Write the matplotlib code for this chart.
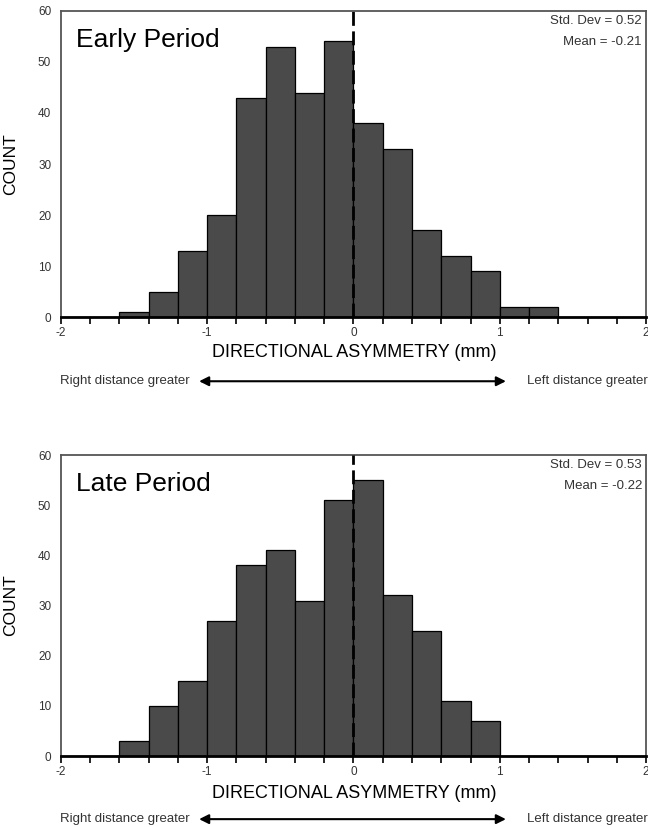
import numpy as np
import matplotlib
matplotlib.use("Agg")
import matplotlib.pyplot as plt
from matplotlib.ticker import MultipleLocator, FixedLocator

plt.rcParams['font.family'] = ['Liberation Sans', 'DejaVu Sans']

# bin edges -2 .. 2 step 0.2
bin_edges = np.round(np.arange(-2.0, 2.0001, 0.2), 2)
early_counts = [0, 0, 1, 5, 13, 20, 43, 53, 44, 54, 38, 33, 17, 12, 9, 2, 2, 0, 0, 0]
late_counts = [0, 0, 3, 10, 15, 27, 38, 41, 31, 51, 55, 32, 25, 11, 7, 0, 0, 0, 0, 0]

panels = [
    ("Early Period", early_counts, "Std. Dev = 0.52", "Mean = -0.21"),
    ("Late Period", late_counts, "Std. Dev = 0.53", "Mean = -0.22"),
]

fig = plt.figure(figsize=(6.48, 8.27), dpi=100)

# [left, bottom, width, height] in figure fractions
axes_pos = [[0.094, 0.6163, 0.903, 0.3707],
            [0.094, 0.0858, 0.903, 0.3640]]
xlabel_y = [0.574, 0.0405]
arrow_y = [0.539, 0.0095]

for (title, counts, sd_txt, mean_txt), pos, xly, ay in zip(panels, axes_pos, xlabel_y, arrow_y):
    ax = fig.add_axes(pos)
    ax.bar(bin_edges[:-1], counts, width=0.2, align='edge',
           color='#4a4a4a', edgecolor='black', linewidth=0.9, zorder=2)
    ax.axvline(0, color='black', linestyle=(0, (5, 2)), linewidth=2, zorder=3)

    ax.set_xlim(-2, 2)
    ax.set_ylim(0, 60)
    ax.xaxis.set_major_locator(FixedLocator([-2, -1, 0, 1, 2]))
    ax.xaxis.set_minor_locator(MultipleLocator(0.2))
    ax.set_xticklabels(['-2', '-1', '0', '1', '2'])
    ax.tick_params(axis='x', which='both', direction='out', length=5,
                   width=1.2, color='black', labelsize=8.5, labelcolor='#333333', pad=2)
    ax.yaxis.set_major_locator(MultipleLocator(10))
    ax.tick_params(axis='y', length=0, labelsize=8.5, labelcolor='#333333', pad=7)

    for side in ['top', 'left', 'right']:
        ax.spines[side].set_color('#555555')
        ax.spines[side].set_linewidth(1.3)
    ax.spines['bottom'].set_color('black')
    ax.spines['bottom'].set_linewidth(2)

    ax.set_ylabel('COUNT', fontsize=12.5, labelpad=14)
    ax.text(0.025, 0.905, title, transform=ax.transAxes, fontsize=19,
            ha='left', va='center')
    ax.text(0.993, 0.968, sd_txt, transform=ax.transAxes, fontsize=9.5,
            ha='right', va='center', color='#333333')
    ax.text(0.993, 0.897, mean_txt, transform=ax.transAxes, fontsize=9.5,
            ha='right', va='center', color='#333333')

    fig.text(0.546, xly, 'DIRECTIONAL ASYMMETRY (mm)', fontsize=13,
             ha='center', va='center')
    fig.text(0.092, ay, 'Right distance greater', fontsize=9.5,
             ha='left', va='center', color='#333333')
    fig.text(0.999, ay, 'Left distance greater', fontsize=9.5,
             ha='right', va='center', color='#333333')
    fig.add_artist(matplotlib.patches.FancyArrowPatch(
        (0.303, ay), (0.785, ay), transform=fig.transFigure,
        arrowstyle='<|-|>', mutation_scale=14, color='black', linewidth=1.5))

fig.savefig('out.png', dpi=100)
